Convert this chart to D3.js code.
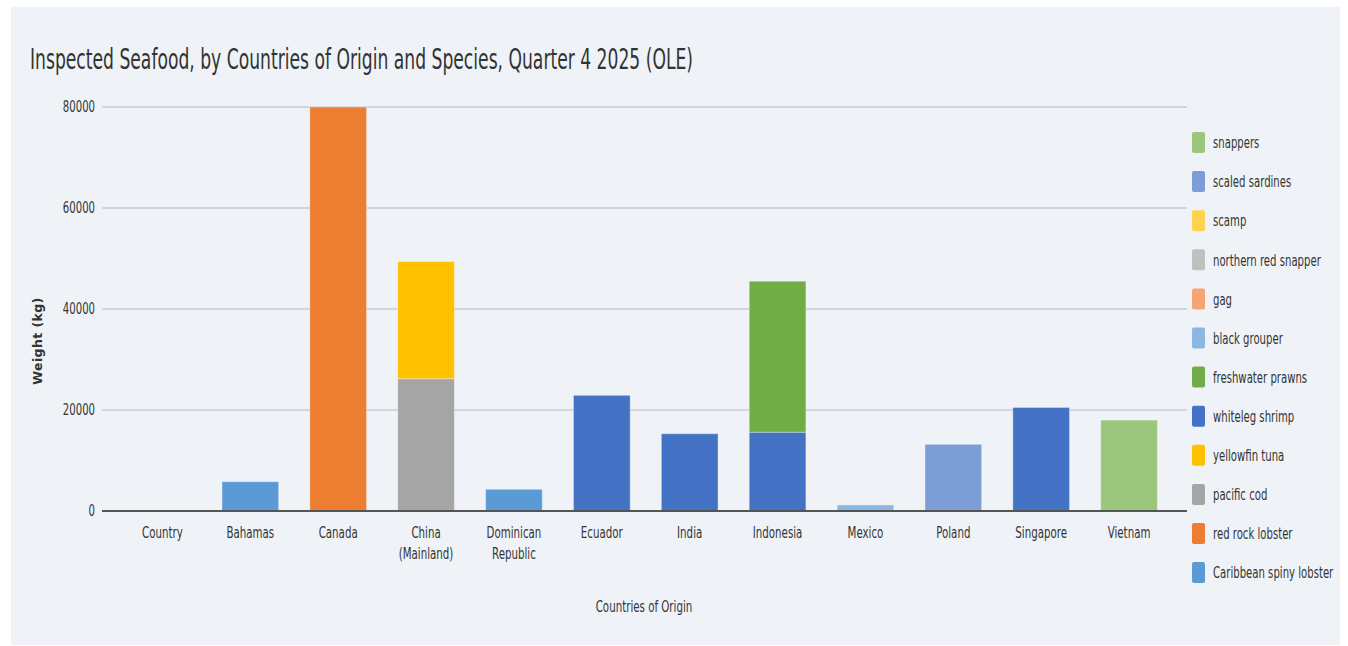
<!DOCTYPE html>
<html lang="en">
<head>
<meta charset="utf-8">
<title>Inspected Seafood</title>
<script src="https://cdn.jsdelivr.net/npm/d3@7"></script>
<style>
    body { margin: 0; background: #ffffff; }
    text { font-family: "Liberation Sans Narrow", "DejaVu Sans Condensed", sans-serif; fill: #333; }
    .grid line { stroke: #c9ccd1; stroke-width: 1.5; }
    .axis path, .axis line { display: none; }
</style>
</head>
<body>
<div id="chart"></div>
<script>
var countries = ["Country", "Bahamas", "Canada", "China (Mainland)", "Dominican Republic", "Ecuador",
    "India", "Indonesia", "Mexico", "Poland", "Singapore", "Vietnam"];

// stack order, bottom to top
var species = ["Caribbean spiny lobster", "red rock lobster", "pacific cod", "yellowfin tuna",
    "whiteleg shrimp", "freshwater prawns", "black grouper", "gag", "northern red snapper",
    "scamp", "scaled sardines", "snappers"];

var colors = ["#5b9bd5", "#ed7d31", "#a5a5a5", "#ffc000", "#4472c4", "#70ad47",
    "#8cb7e1", "#f4a571", "#c0c0c0", "#ffd34f", "#7d9dd6", "#9bc67c"];

// kg per country, same order as countries
var caribbeanSpinyLobster = [0, 5800, 0, 0, 4300, 0, 0, 0, 0, 0, 0, 0];
var redRockLobster        = [0, 0, 80000, 0, 0, 0, 0, 0, 0, 0, 0, 0];
var pacificCod            = [0, 0, 0, 26200, 0, 0, 0, 0, 0, 0, 0, 0];
var yellowfinTuna         = [0, 0, 0, 23200, 0, 0, 0, 0, 0, 0, 0, 0];
var whitelegShrimp        = [0, 0, 0, 0, 0, 22900, 15300, 15600, 0, 0, 20500, 0];
var freshwaterPrawns      = [0, 0, 0, 0, 0, 0, 0, 29900, 0, 0, 0, 0];
var blackGrouper          = [0, 0, 0, 0, 0, 0, 0, 0, 1200, 0, 0, 0];
var gag                   = [0, 0, 0, 0, 0, 0, 0, 0, 0, 0, 0, 0];
var northernRedSnapper    = [0, 0, 0, 0, 0, 0, 0, 0, 0, 0, 0, 0];
var scamp                 = [0, 0, 0, 0, 0, 0, 0, 0, 0, 0, 0, 0];
var scaledSardines        = [0, 0, 0, 0, 0, 0, 0, 0, 0, 13200, 0, 0];
var snappers              = [0, 0, 0, 0, 0, 0, 0, 0, 0, 0, 0, 18000];

var yTicks = [0, 20000, 40000, 60000, 80000];

var series = [caribbeanSpinyLobster, redRockLobster, pacificCod, yellowfinTuna, whitelegShrimp,
    freshwaterPrawns, blackGrouper, gag, northernRedSnapper, scamp, scaledSardines, snappers];

var rows = countries.map(function(c, i) {
    var r = {country: c};
    species.forEach(function(s, j) { r[s] = series[j][i]; });
    return r;
});

var width = 1348, height = 646;

// squeeze a text to look like the narrow font of the original
function condense(sel, factor) {
    sel.each(function() {
        var w = this.getComputedTextLength();
        d3.select(this)
            .attr("textLength", w * factor)
            .attr("lengthAdjust", "spacingAndGlyphs");
    });
}

var svg = d3.select("#chart").append("svg")
    .attr("width", width)
    .attr("height", height);

// panel
svg.append("rect")
    .attr("x", 11).attr("y", 7)
    .attr("width", 1329).attr("height", 638)
    .attr("fill", "#eff3f8");

var x = d3.scaleBand()
    .domain(countries)
    .range([118.5, 1173])
    .paddingInner(0.355)
    .paddingOuter(0.1775);

var y = d3.scaleLinear()
    .domain([0, 80000])
    .range([511, 107]);

var color = d3.scaleOrdinal().domain(species).range(colors);

// grid lines
svg.append("g")
    .attr("class", "grid")
    .selectAll("line")
    .data(yTicks.filter(function(d) { return d > 0; }))
    .enter().append("line")
    .attr("x1", 102).attr("x2", 1187)
    .attr("y1", function(d) { return y(d); })
    .attr("y2", function(d) { return y(d); });

// y tick labels
svg.append("g")
    .attr("class", "axis")
    .attr("transform", "translate(102,0)")
    .call(d3.axisLeft(y).tickValues(yTicks).tickSize(0).tickPadding(7).tickFormat(d3.format("d")))
    .selectAll("text")
    .style("font-size", "15px")
    .style("font-family", "'Liberation Sans Narrow', 'DejaVu Sans Condensed', sans-serif")
    .attr("fill", "#333")
    .call(condense, 0.75);

var stacked = d3.stack().keys(species)(rows);

svg.append("g")
    .selectAll("g")
    .data(stacked)
    .enter().append("g")
    .attr("fill", function(d) { return color(d.key); })
    .selectAll("rect")
    .data(function(d) { return d.filter(function(p) { return p[1] > p[0]; }); })
    .enter().append("rect")
    .attr("x", function(d) { return x(d.data.country); })
    .attr("y", function(d) { return y(d[1]); })
    .attr("width", x.bandwidth())
    .attr("height", function(d) { return y(d[0]) - y(d[1]); })
    .attr("stroke", "rgba(255,255,255,0.35)")
    .attr("stroke-width", 1);

// zero line
svg.append("line")
    .attr("x1", 102).attr("x2", 1187)
    .attr("y1", y(0)).attr("y2", y(0))
    .attr("stroke", "#555")
    .attr("stroke-width", 2);

// x labels
var xl = svg.append("g")
    .selectAll("text")
    .data(countries)
    .enter().append("text")
    .attr("x", function(d) { return x(d) + x.bandwidth() / 2; })
    .attr("y", 538)
    .attr("text-anchor", "middle")
    .style("font-size", "15px");

xl.selectAll("tspan")
    .data(function(d) { return d.length > 10 ? d.split(" ") : [d]; })
    .enter().append("tspan")
    .attr("x", function() { return d3.select(this.parentNode).attr("x"); })
    .attr("dy", function(d, i) { return i === 0 ? 0 : 21; })
    .text(function(d) { return d; })
    .call(condense, 0.76);

// title
svg.append("text")
    .attr("x", 30)
    .attr("y", 69)
    .style("font-size", "28px")
    .attr("fill", "#444")
    .text("Inspected Seafood, by Countries of Origin and Species, Quarter 4 2025 (OLE)")
    .call(function(sel) {
        sel.attr("textLength", 663).attr("lengthAdjust", "spacingAndGlyphs");
    });

// axis titles
svg.append("text")
    .attr("x", 644)
    .attr("y", 612)
    .attr("text-anchor", "middle")
    .style("font-size", "15px")
    .text("Countries of Origin")
    .call(condense, 0.76);

svg.append("text")
    .attr("transform", "translate(42,341) rotate(-90)")
    .attr("text-anchor", "middle")
    .style("font-family", "'DejaVu Sans', sans-serif")
    .style("font-size", "12.5px")
    .style("font-weight", "bold")
    .style("letter-spacing", "0.4px")
    .attr("fill", "#222")
    .text("Weight (kg)");

// legend, top row is last series
var legend = svg.append("g")
    .selectAll("g")
    .data(species.slice().reverse())
    .enter().append("g")
    .attr("transform", function(d, i) { return "translate(1192," + (132 + i * 39.1) + ")"; });

legend.append("rect")
    .attr("width", 13)
    .attr("height", 21)
    .attr("rx", 2)
    .attr("fill", function(d) { return color(d); });

// narrow the labels with a horizontal scale so they fit the panel
legend.append("text")
    .attr("transform", "translate(21,11) scale(0.75,1)")
    .attr("dy", "0.35em")
    .style("font-size", "15px")
    .text(function(d) { return d; });
</script>
</body>
</html>
